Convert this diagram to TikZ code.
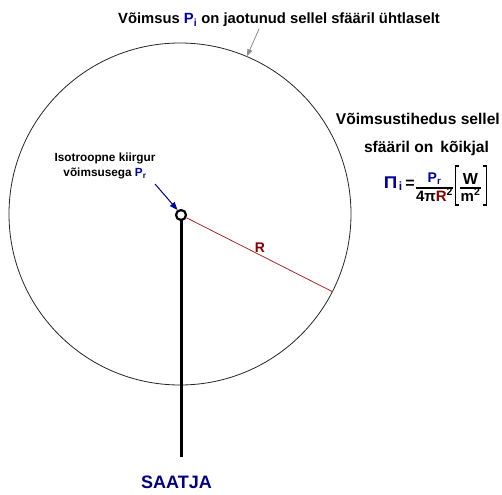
\documentclass[tikz,border=0pt]{standalone}
\usepackage{fontspec}
\setmainfont{Liberation Sans}
\usetikzlibrary{arrows.meta}
\definecolor{navy}{RGB}{0,0,160}
\definecolor{darknavy}{RGB}{0,0,128}
\definecolor{darkred}{RGB}{128,0,0}
\definecolor{linered}{RGB}{170,40,40}
\definecolor{arrowgrey}{RGB}{140,140,140}
\tikzset{
  lbl/.style={font=\bfseries\fontsize{15.6}{18}\selectfont, inner sep=0pt, text=black},
  titlelbl/.style={font=\bfseries\fontsize{14.8}{18}\selectfont, inner sep=0pt, text=black},
  smalllbl/.style={font=\bfseries\fontsize{11.8}{15.5}\selectfont, inner sep=0pt, align=center},
  fml/.style={font=\bfseries\fontsize{15}{15}\selectfont, inner sep=0pt, anchor=base},
  fbar/.style={line width=1.3pt},
  brk/.style={line width=1.6pt},
  spherestyle/.style={circle, draw=black!85, line width=0.8pt, minimum size=342pt, inner sep=0pt},
  srcstyle/.style={circle, draw=black, line width=2.2pt, minimum size=10pt, inner sep=0pt, fill=white},
}
\begin{document}
\begin{tikzpicture}[x=1pt,y=-1pt]
\useasboundingbox (0,0) rectangle (502,494);
\node[spherestyle] (sphere) at (180,214) {};
\draw[line width=3pt] (181,220) coordinate (poletop) -- (181,457) coordinate (polebot);
\node[srcstyle] (src) at (181,215) {};
\coordinate (redge) at (sphere.-27);
\draw[linered, line width=0.8pt] (src) -- (redge);
\node[font=\bfseries\fontsize{14}{16}\selectfont, text=darkred, inner sep=0pt] (rlbl) at (260,248) {R};
% title
\node[titlelbl, anchor=base] (title) at (279,24) {Võimsus \textcolor{navy}{P\textsubscript{i}} on jaotunud sellel sfääril ühtlaselt};
\coordinate (gstart) at (259,29);
\draw[arrowgrey, line width=0.8pt, -{Triangle[length=7pt,width=5pt]}] (gstart) -- (sphere.67);
% left label
\node[smalllbl, anchor=base] (iso) at (105,177) {Isotroopne kiirgur\\võimsusega \textcolor{navy}{P\textsubscript{r}}};
\coordinate (bstart) at (155,184);
\draw[navy, line width=1pt, -{Triangle[length=8pt,width=6pt]}] (bstart) -- (src.125);
% right text
\node[lbl, anchor=base east] (dens1) at (500,125) {Võimsustihedus sellel};
\node[lbl, anchor=base] (dens2) at (426.5,153) {sfääril on\hspace{0.45em}kõikjal};
% formula
\node[fml, font=\bfseries\fontsize{17}{17}\selectfont, text=navy, xscale=1.1] (pisym) at (390.5,189) {Π};
\node[fml, font=\bfseries\fontsize{12}{12}\selectfont, text=navy] (pisub) at (400.5,190) {i};
\node[fml, font=\bfseries\fontsize{16}{16}\selectfont] (eq) at (410,188) {=};
\draw[fbar] (416,188) coordinate (bar1l) -- (453,188) coordinate (bar1r);
\node[fml, font=\bfseries\fontsize{14}{14}\selectfont, text=navy] (num) at (434.5,182.5) {P\textsubscript{r}};
\node[fml] (den) at (434.5,201) {4π\textcolor{darkred}{R}\textsuperscript{2}};
\draw[fbar] (460,188) coordinate (bar2l) -- (481,188) coordinate (bar2r);
\node[fml, font=\bfseries\fontsize{16}{16}\selectfont] (unitw) at (470.5,185) {W};
\node[fml] (unitm) at (470.5,201) {m\textsuperscript{2}};
\draw[brk] (459,166) -- (455.5,166) -- (455.5,205) -- (459,205);
\draw[brk] (483,166) -- (486.5,166) -- (486.5,205) -- (483,205);
% SAATJA
\node[font=\bfseries\fontsize{18}{20}\selectfont, text=darknavy, inner sep=0pt, anchor=base] (saatja) at (176.5,488) {SAATJA};
\end{tikzpicture}
\end{document}
